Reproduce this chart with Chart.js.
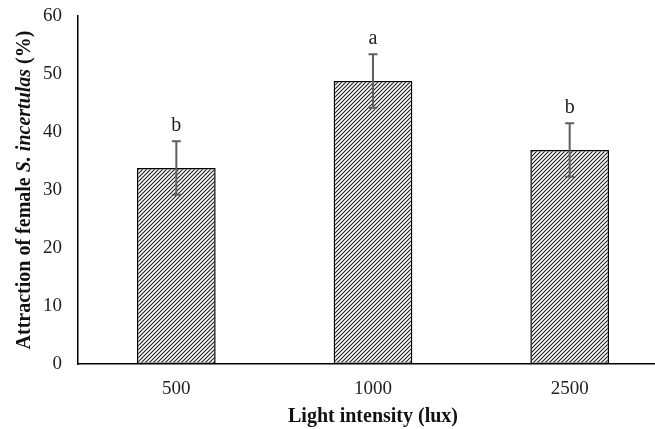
<!DOCTYPE html>
<html>
<head>
<meta charset="utf-8">
<script src="https://cdn.jsdelivr.net/npm/chart.js@4/dist/chart.umd.min.js"></script>
<style>
  html, body { margin: 0; padding: 0; background: #fff; overflow: hidden; width: 655px; height: 429px; }
  canvas { display: block; }
</style>
</head>
<body>
<canvas id="c" width="668" height="429"></canvas>
<script>
const categories = ['500', '1000', '2500'];
const attraction = [33.8, 48.8, 36.9];
const errors = [4.6, 4.6, 4.6];
const letters = ['b', 'a', 'b'];
const yTicks = [0, 10, 20, 30, 40, 50, 60];

const FONT = '"Liberation Serif", "Times New Roman", serif';

function hatch() {
  const s = 4;
  const p = document.createElement('canvas');
  p.width = s; p.height = s;
  const g = p.getContext('2d');
  g.fillStyle = '#ffffff';
  g.fillRect(0, 0, s, s);
  g.strokeStyle = '#1e1e1e';
  g.lineWidth = 1.1;
  g.beginPath();
  g.moveTo(0, s); g.lineTo(s, 0);
  g.moveTo(-1, 1); g.lineTo(1, -1);
  g.moveTo(s - 1, s + 1); g.lineTo(s + 1, s - 1);
  g.stroke();
  return g.createPattern(p, 'repeat');
}

const errorPlugin = {
  id: 'errs',
  afterDatasetsDraw(chart) {
    const ctx = chart.ctx;
    const y = chart.scales.y;
    const meta = chart.getDatasetMeta(0);
    ctx.save();
    meta.data.forEach((bar, i) => {
      const x = bar.x;
      const top = y.getPixelForValue(attraction[i] + errors[i]);
      const bot = y.getPixelForValue(attraction[i] - errors[i]);
      ctx.strokeStyle = '#5f5f5f';
      ctx.lineWidth = 2;
      ctx.beginPath();
      ctx.moveTo(x, top); ctx.lineTo(x, bot);
      ctx.moveTo(x - 4.5, top); ctx.lineTo(x + 4.5, top);
      ctx.moveTo(x - 4.5, bot); ctx.lineTo(x + 4.5, bot);
      ctx.stroke();
      ctx.fillStyle = '#222';
      ctx.font = '20px ' + FONT;
      ctx.textAlign = 'center';
      ctx.textBaseline = 'alphabetic';
      ctx.fillText(letters[i], x, top - 10);
    });
    ctx.restore();
  }
};

const yTitlePlugin = {
  id: 'ytitle',
  afterDraw(chart) {
    const ctx = chart.ctx;
    const area = chart.chartArea;
    const parts = [
      ['Attraction of female ', 'bold 20px ' + FONT],
      ['S. incertulas', 'italic bold 20px ' + FONT],
      [' (%)', 'bold 20px ' + FONT]
    ];
    ctx.save();
    let total = 0;
    parts.forEach(p => { ctx.font = p[1]; total += ctx.measureText(p[0]).width; });
    ctx.translate(25, (area.top + area.bottom) / 2);
    ctx.rotate(-Math.PI / 2);
    ctx.fillStyle = '#111';
    ctx.textBaseline = 'middle';
    ctx.textAlign = 'left';
    let x = -total / 2;
    parts.forEach(p => { ctx.font = p[1]; ctx.fillText(p[0], x, 0); x += ctx.measureText(p[0]).width; });
    ctx.restore();
  }
};

new Chart(document.getElementById('c'), {
  type: 'bar',
  data: {
    labels: categories,
    datasets: [{
      data: attraction,
      backgroundColor: hatch(),
      borderColor: '#000',
      borderWidth: 1.5,
      borderSkipped: false,
      barPercentage: 0.4,
      categoryPercentage: 1.0
    }]
  },
  options: {
    responsive: false,
    devicePixelRatio: 1,
    animation: false,
    layout: { padding: { top: 16, right: 0, left: 0, bottom: 0 } },
    plugins: { legend: { display: false }, tooltip: { enabled: false } },
    scales: {
      x: {
        type: 'category',
        offset: true,
        grid: { display: false, drawTicks: false },
        border: { display: true, color: '#000', width: 1.5 },
        ticks: { color: '#222', font: { family: FONT, size: 19 }, padding: 14, maxRotation: 0 },
        title: { display: true, text: 'Light intensity (lux)', color: '#111',
                 font: { family: FONT, size: 20, weight: 'bold' }, padding: { top: 0, bottom: 0 } },
        afterFit(s) { s.height = 65; s.paddingTop = 0; s.paddingBottom = 0; }
      },
      y: {
        min: 0, max: 60,
        grid: { display: false, drawTicks: false },
        border: { display: true, color: '#000', width: 1.5 },
        afterBuildTicks(s) { s.ticks = yTicks.map(v => ({ value: v })); },
        ticks: { color: '#222', font: { family: FONT, size: 19 }, padding: 16 },
        afterFit(s) { s.width = 78; s.paddingTop = 0; s.paddingBottom = 0; }
      }
    }
  },
  plugins: [errorPlugin, yTitlePlugin]
});
</script>
</body>
</html>
